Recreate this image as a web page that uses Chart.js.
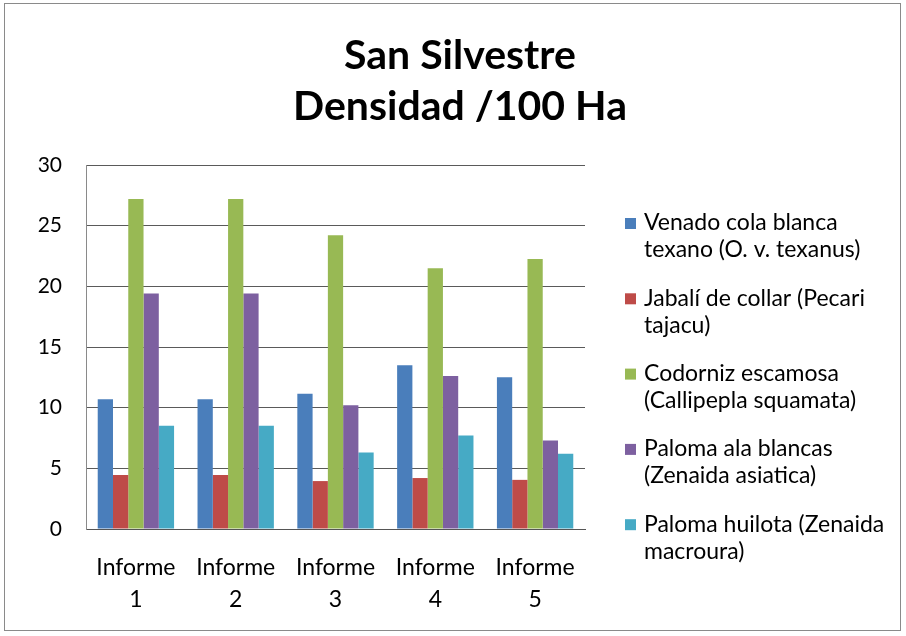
<!DOCTYPE html>
<html><head><meta charset="utf-8">
<script src="https://cdn.jsdelivr.net/npm/chart.js@4"></script>
<style>html,body{margin:0;padding:0;background:#fff}canvas{display:block}</style>
</head><body>
<canvas id="c" width="906" height="636"></canvas>
<script>
const titleLines = ["San Silvestre", "Densidad /100 Ha"];
const categories = [["Informe","1"],["Informe","2"],["Informe","3"],["Informe","4"],["Informe","5"]];
const seriesLines = [
  ["Venado cola blanca","texano (O. v. texanus)"],
  ["Jabalí de collar (Pecari","tajacu)"],
  ["Codorniz escamosa","(Callipepla squamata)"],
  ["Paloma ala blancas","(Zenaida asiatica)"],
  ["Paloma huilota (Zenaida","macroura)"]
];
const venado   = [10.7, 10.7, 11.15, 13.5, 12.5];
const jabali   = [4.45, 4.45, 3.95, 4.2, 4.05];
const codorniz = [27.2, 27.2, 24.2, 21.5, 22.25];
const palomaAB = [19.4, 19.4, 10.2, 12.6, 7.3];
const huilota  = [8.5, 8.5, 6.3, 7.7, 6.2];
const seriesValues = [venado, jabali, codorniz, palomaAB, huilota];
const colors = ["#4A7EBB", "#BE4B48", "#98B954", "#7D60A0", "#46AAC5"];
const yTicks = {min: 0, max: 30, step: 5};

const FONT = "Lato, 'Liberation Sans', sans-serif";

const decor = {
  id: 'decor',
  afterDraw(chart) {
    const ctx = chart.ctx;
    ctx.save();
    // outer border
    ctx.strokeStyle = '#8a8a8a';
    ctx.lineWidth = 1;
    ctx.strokeRect(4.5, 3.5, 896, 627);
    // title
    ctx.fillStyle = '#000';
    ctx.font = "bold 41px " + FONT;
    ctx.textAlign = 'center';
    ctx.textBaseline = 'middle';
    ctx.fillText(titleLines[0], 460, 56);
    ctx.fillText(titleLines[1], 460, 107);
    // legend
    ctx.font = "23px " + FONT;
    ctx.textAlign = 'left';
    chart.data.datasets.forEach((ds, i) => {
      const y0 = 223 + i * 75.3;
      ctx.fillStyle = ds.backgroundColor;
      ctx.fillRect(625, y0 - 5, 11, 11);
      ctx.fillStyle = '#000';
      seriesLines[i].forEach((ln, j) => ctx.fillText(ln, 644, y0 + j * 27));
    });
    ctx.restore();
  }
};

new Chart(document.getElementById('c'), {
  type: 'bar',
  data: {
    labels: categories,
    datasets: seriesValues.map((v, i) => ({
      label: seriesLines[i].join(' '),
      data: v,
      backgroundColor: colors[i],
      borderWidth: 0
    }))
  },
  options: {
    responsive: false,
    animation: false,
    devicePixelRatio: 1,
    layout: {padding: {left: 10, right: 321, top: 165, bottom: 0}},
    datasets: {bar: {categoryPercentage: 0.765, barPercentage: 1}},
    plugins: {legend: {display: false}, title: {display: false}, tooltip: {enabled: false}},
    scales: {
      x: {
        grid: {display: false, drawTicks: false},
        border: {display: true, color: '#555', width: 1},
        ticks: {color: '#000', font: {family: FONT, size: 23, lineHeight: 1.4}, padding: 22, maxRotation: 0},
        afterFit(s) { s.height = 107; }
      },
      y: {
        min: yTicks.min, max: yTicks.max,
        grid: {color: '#5a5a5a', drawTicks: false},
        border: {display: true, color: '#8a8a8a', width: 1},
        ticks: {stepSize: yTicks.step, color: '#000', font: {family: FONT, size: 21}, padding: 24},
        afterFit(s) { s.width = 76; }
      }
    }
  },
  plugins: [decor]
});
</script>
</body></html>
